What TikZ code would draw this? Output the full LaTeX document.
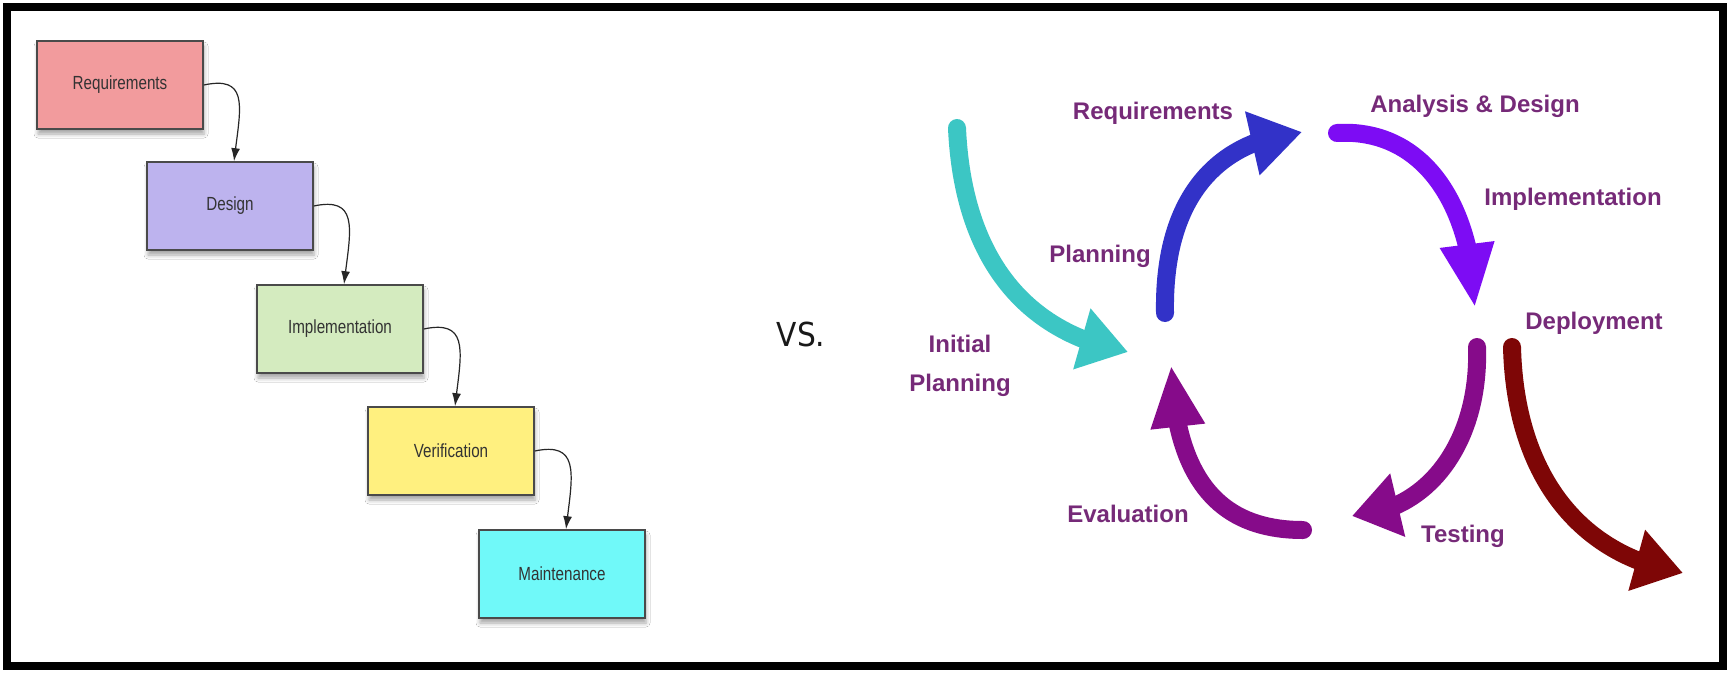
\documentclass[tikz,border=0pt]{standalone}
\usepackage{fontspec}
\usetikzlibrary{arrows.meta,bending,shadows.blur}
\newfontfamily\boxfont[FakeStretch=0.8]{Liberation Sans}
\newfontfamily\labfont{Liberation Sans}
\newfontfamily\vsfont[FakeStretch=0.9]{DejaVu Sans}
\definecolor{reqc}{HTML}{F29B9D}
\definecolor{desc}{HTML}{BDB3EE}
\definecolor{impc}{HTML}{D4EBBF}
\definecolor{verc}{HTML}{FFF07F}
\definecolor{mntc}{HTML}{70F9F9}
\definecolor{boxline}{HTML}{4A4A4A}
\definecolor{boxtext}{HTML}{333333}
\definecolor{labc}{HTML}{762A78}
\definecolor{cyanc}{HTML}{3CC6C4}
\definecolor{bluec}{HTML}{3232C8}
\definecolor{violc}{HTML}{7D0CF4}
\definecolor{purpc}{HTML}{860B8A}
\definecolor{redc}{HTML}{7E0606}
\tikzset{
  wbox/.style={draw=boxline, line width=1.6pt, minimum width=166pt, minimum height=88pt,
    inner sep=0pt, font=\boxfont\fontsize{19}{22}\selectfont, text=boxtext,
    blur shadow={shadow xshift=1pt, shadow yshift=-5pt, shadow blur radius=4pt, shadow opacity=35}},
  conn/.style={draw=black!85, line width=1.2pt, -{Latex[length=13pt,width=9pt]}},
  lab/.style={font=\labfont\bfseries\fontsize{24}{39}\selectfont, text=labc, inner sep=0pt, anchor=base},
  bigarrow/.style={line width=18pt, line cap=round},
}
\begin{document}
\begin{tikzpicture}[x=1pt,y=-1pt]
\useasboundingbox (0,0) rectangle (1728,672);
\fill[white] (0,0) rectangle (1728,672);
\draw[line width=8pt] (7,7) rectangle (1723,666);

% waterfall
\node[wbox, fill=reqc] (req) at (120,85) {Requirements};
\node[wbox, fill=desc] (des) at (230,206) {Design};
\node[wbox, fill=impc] (imp) at (340,329) {Implementation};
\node[wbox, fill=verc] (ver) at (451,451) {Verification};
\node[wbox, fill=mntc] (mnt) at (562,574) {Maintenance};
\foreach \a/\b in {req/des, des/imp, imp/ver, ver/mnt}{
  \draw[conn] (\a.east) .. controls +(47,-10) and +(6,-52) .. ([xshift=4pt]\b.north);
}

% vs
\node[font=\vsfont\fontsize{33}{36}\selectfont, text=black!90, inner sep=0pt, anchor=base] (vs) at (801,346) {VS.};

% cycle coordinates
\coordinate (c0) at (957,128);   \coordinate (c1) at (1128,352);
\coordinate (b0) at (1165,313);  \coordinate (b1) at (1302,132);
\coordinate (v0) at (1337,133);  \coordinate (v1) at (1475,308);
\coordinate (t0) at (1477,347);  \coordinate (t1) at (1352,516);
\coordinate (r0) at (1512,347);  \coordinate (r1) at (1683,573);
\coordinate (e0) at (1303,530);  \coordinate (e1) at (1171,365);

\draw[bigarrow, draw=cyanc, -{Triangle[length=48pt,width=60pt]}]
  (c0) .. controls (962,240) and (1010,330) .. (c1);
\draw[bigarrow, draw=bluec, -{Triangle[length=51pt,width=62pt]}]
  (b0) .. controls (1163,200) and (1215,140) .. (b1);
\draw[bigarrow, draw=violc, -{Triangle[length=64pt,width=50pt]}]
  (v0) .. controls (1420,128) and (1472,200) .. (v1);
\draw[bigarrow, draw=purpc, -{Triangle[length=47pt,width=62pt]}]
  (t0) .. controls (1480,440) and (1430,512) .. (t1);
\draw[bigarrow, draw=redc, -{Triangle[length=48pt,width=60pt]}]
  (r0) .. controls (1515,470) and (1575,555) .. (r1);
\draw[bigarrow, draw=purpc, -{Triangle[length=62pt,width=50pt]}]
  (e0) .. controls (1220,530) and (1175,480) .. (e1);

% labels
\node[lab] (lreq) at (1153,119) {Requirements};
\node[lab] (lana) at (1475,112) {Analysis \& Design};
\node[lab] (limp) at (1573,205) {Implementation};
\node[lab] (ldep) at (1594,329) {Deployment};
\node[lab] (lpla) at (1100,262) {Planning};
\node[lab] (leva) at (1128,522) {Evaluation};
\node[lab] (ltes) at (1463,542) {Testing};
\node[lab, anchor=north, align=center] (lini) at (960,335) {Initial\\Planning};
\end{tikzpicture}
\end{document}
